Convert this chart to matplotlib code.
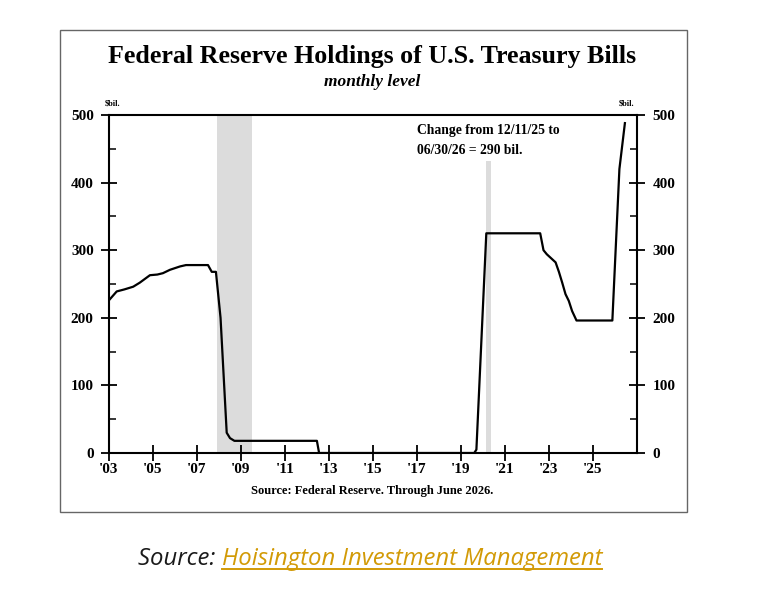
#!/usr/bin/env python3
"""Fed holdings of T-bills, monthly level, redrawn from the Hoisington chart."""

import matplotlib

matplotlib.use("Agg")
import matplotlib.pyplot as plt
from matplotlib.patches import Rectangle
from matplotlib.ticker import MultipleLocator

# decimal year, $bil.
YEARS = [2003.0, 2003.35, 2003.7, 2004.1, 2004.4, 2004.86, 2005.2, 2005.45, 2005.77,
         2006.23, 2006.5, 2007.5, 2007.67, 2007.86, 2008.07, 2008.35, 2008.5, 2008.7,
         2012.45, 2012.55, 2019.6, 2019.7, 2020.15, 2022.6, 2022.75, 2022.9, 2023.2,
         2023.3, 2023.45, 2023.6, 2023.75, 2023.9, 2024.05, 2024.25, 2025.88, 2026.0,
         2026.2, 2026.45]
HOLDINGS = [226, 239, 242, 246, 252, 263, 264, 266, 271,
            276, 278, 278, 268, 268, 200, 30, 22, 18,
            18, 0, 0, 5, 325, 325, 300, 294, 285,
            282, 268, 252, 235, 225, 210, 196, 196, 280,
            420, 488]

RECESSIONS = [(2007.92, 2009.5), (2020.12, 2020.35)]
RECESSION_TOPS = [500, 432]

XTICKS = list(range(2003, 2027, 2))
XTICK_LABELS = ["'%02d" % (y % 100) for y in XTICKS]

NOTE = "Change from 12/11/25 to\n06/30/26 = 290 bil."

SERIF = "Liberation Serif"
GOLD = "#d29a06"


def main() -> int:
    fig = plt.figure(figsize=(7.84, 5.92), dpi=100)
    W, H = 784, 592

    frame = Rectangle((60 / W, 1 - 512 / H), 627 / W, 482 / H, transform=fig.transFigure,
                      fill=False, edgecolor="#666666", linewidth=1.0)
    fig.patches.append(frame)

    ax = fig.add_axes([109 / W, 1 - 453 / H, (637 - 109) / W, (453 - 115) / H])
    for (x0, x1), top in zip(RECESSIONS, RECESSION_TOPS):
        ax.fill_between([x0, x1], 0, top, color="#dcdcdc", linewidth=0, zorder=0)
    ax.plot(YEARS, HOLDINGS, color="black", linewidth=1.6, zorder=3)

    ax.set_xlim(2003, 2027)
    ax.set_ylim(0, 500)
    ax.set_xticks(XTICKS)
    ax.set_xticklabels(XTICK_LABELS)
    ax.yaxis.set_major_locator(MultipleLocator(100))
    ax.yaxis.set_minor_locator(MultipleLocator(50))
    ax.tick_params(axis="y", which="major", direction="inout", length=12, width=1.3,
                   left=True, right=True, labelleft=True, labelright=True, pad=5)
    ax.tick_params(axis="y", which="minor", direction="in", length=5, width=1.1,
                   left=True, right=True)
    ax.tick_params(axis="x", which="major", direction="inout", length=11, width=1.3, pad=1.5)
    for spine in ax.spines.values():
        spine.set_linewidth(1.5)
    for label in ax.get_xticklabels() + ax.get_yticklabels():
        label.set_fontfamily(SERIF)
        label.set_fontweight("bold")
        label.set_fontsize(11)

    ax.text(2017.0, 486, NOTE, family=SERIF, weight="bold", fontsize=9.8,
            va="top", ha="left", linespacing=1.7)

    fig.text(372 / W, 1 - 57 / H, "Federal Reserve Holdings of U.S. Treasury Bills",
             family=SERIF, weight="bold", fontsize=18.7, ha="center", va="center")
    fig.text(372 / W, 1 - 82 / H, "monthly level", family=SERIF, weight="bold",
             style="italic", fontsize=12.5, ha="center", va="center")
    fig.text(113 / W, 1 - 103 / H, r"\$bil.", family=SERIF, weight="bold",
             fontsize=6, ha="center", va="center")
    fig.text(627 / W, 1 - 103 / H, r"\$bil.", family=SERIF, weight="bold",
             fontsize=6, ha="center", va="center")
    fig.text(372 / W, 1 - 491 / H, "Source: Federal Reserve. Through June 2026.",
             family=SERIF, weight="bold", fontsize=9, ha="center", va="center")

    src = fig.text(138 / W, 1 - 559 / H, "Source: ", family="Open Sans", style="italic",
                   fontsize=17.2, ha="left", va="center", color="#1a1a1a")
    fig.canvas.draw()
    renderer = fig.canvas.get_renderer()
    bb = src.get_window_extent(renderer)
    link = fig.text(bb.x1 / W, 1 - 559 / H, "Hoisington Investment Management",
                    family="Open Sans", style="italic", fontsize=17.2, ha="left",
                    va="center", color=GOLD)
    fig.canvas.draw()
    lb = link.get_window_extent(renderer)
    uy = (lb.y0 + 2) / H
    fig.add_artist(plt.Line2D([lb.x0 / W, lb.x1 / W], [uy, uy], transform=fig.transFigure,
                              color=GOLD, linewidth=1.4))

    fig.savefig("out.png", dpi=100)
    plt.close(fig)
    return 0


if __name__ == "__main__":
    raise SystemExit(main())
